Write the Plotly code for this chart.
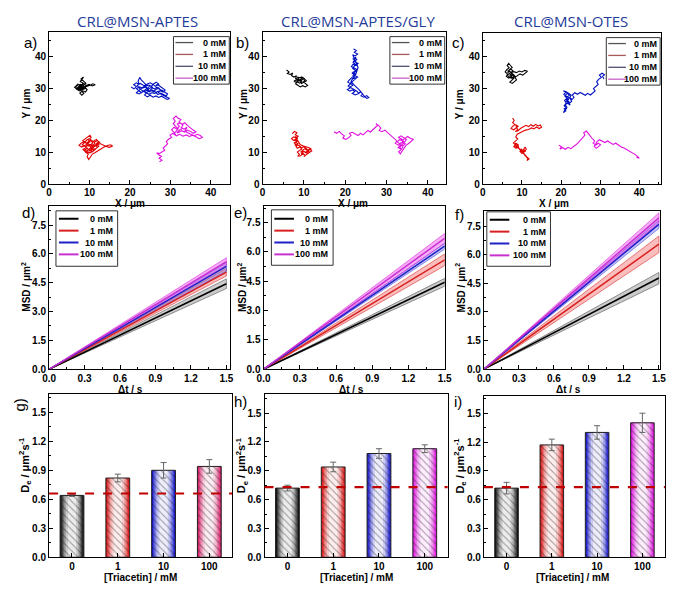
import plotly.graph_objects as go

W, H = 674, 589
def fx(p): return p / W
def fy(p): return 1 - p / H

CONC = ["0 mM", "1 mM", "10 mM", "100 mM"]
TITLES = ["CRL@MSN-APTES", "CRL@MSN-APTES/GLY", "CRL@MSN-OTES"]

# ---------------- trajectories (x, y) in µm ----------------
TRAJ_A = [
    [(8.0,30.0),(7.3,30.6),(7.8,31.2),(8.6,30.7),(8.2,29.8),(7.5,29.2),(6.8,29.7),(7.4,30.3),(8.1,29.5),(8.9,29.9),(9.2,30.8),(8.5,31.5),(7.9,30.9),(7.1,31.3),(6.6,30.6),(7.2,29.9),(7.9,28.9),(8.6,28.4),(8.1,27.8),(7.6,28.5),(8.3,29.2),(9.0,28.8),(9.4,29.6),(8.8,30.3),(8.0,30.8),(8.4,31.6),(7.7,32.1),(8.2,32.8),(8.5,33.5),(7.9,32.9),(8.6,32.3),(9.1,31.6),(8.4,30.9),(7.6,30.4),(6.9,30.9),(6.3,30.3),(7.0,29.6),(7.7,29.9),(8.5,30.2),(9.3,30.5),(10.1,30.9),(10.8,31.4),(11.4,31.1),(10.7,30.7),(9.9,31.2),(9.2,30.9),(8.7,30.1),(7.9,29.7),(7.2,30.2),(7.7,30.7),(8.4,29.9)],
    [(9.5,11.5),(8.8,12.1),(8.1,11.6),(7.4,12.1),(7.9,12.8),(8.7,13.3),(9.4,12.7),(10.1,13.2),(9.7,13.9),(10.4,14.6),(10.1,15.3),(9.5,14.7),(8.9,14.1),(8.3,13.6),(9.0,13.0),(9.8,12.5),(10.6,12.0),(11.3,12.6),(11.0,13.4),(11.7,14.0),(12.2,13.3),(11.6,12.5),(12.3,11.9),(11.7,11.2),(10.9,10.8),(10.2,11.3),(9.5,10.7),(9.0,10.0),(9.7,9.4),(9.4,8.6),(9.8,7.7),(10.3,8.5),(10.7,9.4),(11.4,9.9),(12.1,10.5),(12.8,11.2),(13.6,11.6),(14.4,12.1),(15.2,12.3),(15.7,11.9),(14.9,11.5),(14.1,11.8),(13.3,12.3),(12.6,12.7),(11.9,12.2),(11.1,11.7),(10.4,10.4),(9.7,10.9),(9.0,11.4),(8.4,10.8),(8.9,10.2),(9.6,9.9),(10.5,10.1),(11.2,10.6),(10.6,11.2),(10.0,12.0),(10.8,12.9),(10.3,13.7),(9.6,13.2),
     (9.1,12.5),(9.8,11.9),(10.5,12.4),(11.2,11.9),(11.9,12.6),(12.5,13.1),(11.9,13.6),(11.2,13.1),(10.6,13.6),(10.0,14.2),(9.3,13.8),(8.6,12.9),(8.2,12.3),(8.9,11.8),(9.6,12.2),(10.3,11.7),(11.0,12.3),(10.6,11.0),(10.0,10.5),(9.4,11.1),(8.8,10.7),(9.3,10.2),(10.1,9.8),(10.8,10.2),(11.5,11.1),(12.0,11.6),(11.4,12.1),(10.8,11.6)],
    [(20.3,30.4),(21.0,29.8),(21.6,30.5),(20.9,31.1),(21.6,31.7),(22.3,31.2),(22.0,32.2),(22.4,33.4),(22.8,32.6),(23.3,31.9),(23.9,31.2),(23.4,30.5),(22.7,29.9),(22.1,29.1),(21.5,28.6),(22.3,28.2),(23.0,28.8),(23.7,29.5),(24.4,30.1),(25.0,30.8),(25.6,30.2),(25.1,29.5),(25.8,28.9),(26.4,29.6),(27.1,30.1),(27.6,29.4),(27.0,28.7),(27.7,28.1),(28.4,27.6),(29.1,27.2),(29.8,26.8),(29.2,26.5),(28.5,26.9),(27.8,27.5),(27.1,27.1),(26.4,27.6),(25.7,27.2),(25.0,27.8),(24.3,27.3),(23.6,27.9),(24.1,28.6),(24.8,29.2),(24.2,29.9),(23.6,30.6),(24.3,31.3),(25.0,31.7),(25.7,31.2),(26.3,30.6),(26.9,31.1),(27.5,30.6),(28.1,30.0),(28.7,29.4),(28.2,28.8),(27.5,29.2),(26.8,29.0),(26.1,28.4),(25.4,28.6),(24.7,28.1),(24.0,28.5),
     (23.4,29.1),(22.8,28.6),(22.2,29.4),(21.6,29.9),(22.4,30.4),(23.1,30.0),(23.8,30.4),(24.6,29.8),(25.3,30.3),(26.0,29.8),(26.7,30.3),(27.3,29.7),(28.0,29.3),(28.6,28.7),(29.3,28.2),(29.0,27.6),(28.3,28.1),(27.6,28.5),(26.9,28.0),(26.2,28.9),(25.5,29.4),(24.8,28.9),(24.2,29.4),(23.5,28.9),(22.9,29.4),(22.3,30.0),(21.8,30.9),(22.5,31.5),(23.2,31.0),(23.9,30.6),(24.6,31.0),(25.3,30.6),(25.9,31.4),(26.5,31.9),(27.1,31.3),(26.4,30.9)],
    [(27.3,7.0),(27.9,7.5),(27.2,8.1),(27.8,8.7),(27.1,9.2),(26.6,9.8),(27.3,9.6),(28.0,10.1),(28.6,10.6),(28.2,11.3),(28.8,11.9),(29.3,12.6),(29.0,13.4),(29.6,14.1),(30.3,14.6),(29.9,15.3),(30.6,15.9),(31.3,15.4),(30.8,16.3),(30.3,17.0),(30.9,17.8),(31.6,17.2),(32.2,18.1),(31.7,18.8),(32.5,19.1),(33.1,18.5),(32.7,17.7),(33.4,17.2),(34.1,17.8),(33.6,16.6),(34.4,16.0),(35.2,15.6),(35.9,15.1),(36.6,15.6),(37.4,15.2),(37.9,14.6),(37.1,14.2),(36.3,14.8),(35.5,15.3),(34.7,14.9),(33.9,15.4),(33.1,15.0),(32.3,15.6),(31.5,15.1),(30.8,15.7),(31.4,16.5),(31.9,17.3),(31.3,18.1),(30.7,18.9),(31.2,19.7),(30.7,20.5),(31.4,21.3),(31.9,20.6),(32.6,20.2),(32.1,19.4),(32.9,18.7),(33.6,19.2),(34.2,18.4),
     (34.9,17.6),(35.6,16.9),(36.3,16.4),(35.7,15.9),(34.9,16.5),(34.2,16.9),(33.5,16.3),(32.8,16.7),(32.1,16.2),(31.6,16.0),(32.3,17.0),(33.0,17.4)],
]
TRAJ_B = [
    [(5.8,35.7),(6.4,35.1),(6.0,34.6),(6.7,34.3),(7.3,34.8),(7.0,34.0),(7.6,33.5),(8.2,33.9),(8.0,33.1),(8.7,32.7),(8.3,32.1),(8.9,31.6),(9.5,32.0),(9.2,32.8),(9.8,33.3),(10.3,32.7),(9.9,32.0),(10.5,31.5),(10.9,30.9),(10.3,30.4),(9.7,30.8),(9.1,30.4),(8.6,31.0),(8.0,31.4),(8.5,32.2),(9.1,32.5),(9.6,33.6),(9.0,33.3),(8.4,33.5),(8.8,32.9),(9.4,31.5),(10.0,31.9),(10.6,32.3),(10.1,33.0),(9.5,32.6),(8.7,32.4),(8.1,32.6),(7.6,32.2),(8.2,31.8)],
    [(7.2,15.8),(7.7,16.5),(8.3,16.1),(7.9,15.4),(8.6,15.0),(8.1,14.4),(7.5,14.8),(7.0,14.2),(7.6,13.6),(8.3,13.9),(8.0,13.1),(8.6,12.6),(8.2,11.9),(7.8,12.5),(8.4,11.2),(9.0,11.6),(9.5,11.0),(8.9,10.4),(8.4,10.0),(8.9,9.3),(8.5,8.7),(9.2,8.9),(9.8,9.6),(10.3,9.0),(10.0,8.6),(10.7,9.3),(11.3,9.9),(11.9,10.4),(11.4,10.9),(10.8,10.5),(10.2,11.1),(9.6,10.4),(9.2,10.0),(9.8,10.3),(10.5,10.0),(11.1,10.6),(11.8,11.0),(11.2,11.4),(10.4,11.6),(9.7,12.0),(9.1,12.4),(8.7,13.2),(8.2,14.0),(7.9,14.9),
     (8.5,14.4),(7.7,13.9),(8.4,13.3),(7.6,12.9),(8.2,12.4),(8.9,12.0),(9.4,11.4),(10.0,11.7),(10.6,11.1),(11.2,10.3),(10.6,9.7),(10.0,10.2),(9.4,9.6),(9.9,9.1)],
    [(22.0,42.3),(22.7,41.8),(22.2,41.2),(23.0,40.7),(22.4,40.1),(21.8,40.5),(22.1,39.6),(22.8,39.0),(22.3,38.3),(23.1,37.8),(22.6,37.1),(21.9,37.5),(21.5,36.8),(22.2,36.3),(22.9,35.8),(22.4,35.1),(21.7,34.7),(22.3,34.0),(23.0,33.5),(22.4,32.9),(21.6,33.3),(21.0,32.6),(20.6,31.9),(21.3,31.4),(20.7,30.7),(21.2,30.1),(20.5,29.6),(21.1,29.1),(21.8,29.5),(22.3,28.9),(21.7,28.4),(22.4,27.9),(23.1,28.3),(23.7,28.9),(24.2,28.2),(23.8,27.6),(24.5,27.2),(25.2,27.7),(25.7,27.1),(25.2,26.8),(24.7,27.4),(23.4,29.5),(22.6,30.4),(22.0,31.2),(21.4,32.2),(22.0,33.5),(22.6,34.5),(23.1,36.5),(22.5,38.5),(21.9,39.2),
     (22.6,39.7),(21.9,38.1),(22.5,37.5),(21.8,36.2),(22.6,35.4),(21.9,35.0),(22.5,34.3),(21.8,33.8),(22.6,33.1),(21.9,32.3),(21.3,31.7),(21.8,30.9),(21.1,30.4),(21.7,29.9),(22.9,29.0),(23.4,28.2)],
    [(17.3,16.4),(17.9,15.9),(18.6,16.5),(19.1,15.7),(19.8,15.1),(19.4,14.4),(20.1,14.0),(20.8,14.5),(21.4,15.2),(21.0,15.9),(21.7,16.2),(22.4,15.6),(23.1,15.2),(23.7,15.9),(24.3,15.4),(24.9,16.1),(25.5,16.8),(26.1,16.3),(26.7,17.1),(27.3,17.8),(27.9,18.5),(27.4,18.9),(28.1,18.3),(28.6,17.5),(28.2,16.8),(28.9,16.4),(29.6,16.9),(30.2,16.2),(30.8,15.5),(31.4,14.8),(31.9,14.1),(32.5,13.5),(32.1,12.8),(32.8,12.2),(33.4,12.8),(34.1,13.4),(33.6,14.1),(32.9,14.6),(33.5,15.1),(34.2,14.5),(34.8,13.9),(34.3,13.1),(33.7,12.4),(33.2,11.6),(33.5,10.8),(32.9,10.1),(33.3,9.5),(33.8,10.3),(34.2,11.2),(34.7,12.1),(35.4,12.8),(36.1,13.4),(36.5,14.0),(35.8,14.3),(35.1,14.9),
     (34.4,14.3),(33.8,13.6),(33.1,13.9),(32.6,13.2),(33.2,12.6),(33.9,13.1),(34.5,12.6),(33.9,11.9),(33.4,12.3),(32.8,11.4),(33.6,11.0),(34.0,11.8)],
]
TRAJ_C = [
    [(6.8,34.0),(7.4,34.6),(6.9,35.3),(6.3,34.9),(6.9,35.9),(7.5,36.5),(7.0,37.2),(6.6,37.8),(6.2,37.1),(6.7,36.4),(6.1,35.8),(5.7,35.1),(6.3,34.4),(6.0,33.7),(6.6,33.2),(7.3,33.6),(7.9,33.1),(7.4,32.5),(6.9,31.9),(7.5,31.5),(8.1,32.0),(8.6,32.6),(8.2,33.4),(8.8,34.0),(9.5,34.5),(10.2,34.1),(10.8,34.7),(11.4,35.3),(10.7,35.6),(10.0,35.1),(9.3,35.4),(8.6,34.9),(7.9,35.2),(7.3,34.9),(7.8,34.2),(7.1,33.8),(7.6,33.2),(8.3,33.7),
     (7.7,34.4),(7.1,34.9),(6.5,35.5),(7.2,36.0),(7.7,35.4),(6.8,34.6),(6.2,34.1),(6.8,33.5),(7.4,33.1),(8.0,33.9),(7.3,34.2)],
    [(7.6,20.7),(8.0,19.9),(7.6,19.2),(8.2,18.6),(7.6,18.1),(7.2,17.4),(7.9,17.0),(8.5,17.5),(9.0,18.1),(8.4,18.6),(8.9,17.0),(8.3,16.5),(9.0,16.7),(9.6,17.4),(10.3,17.9),(11.0,18.4),(11.7,18.0),(12.3,18.6),(12.9,18.1),(13.5,18.7),(14.1,18.2),(14.7,18.5),(15.0,17.8),(14.4,17.4),(13.7,17.9),(13.1,17.3),(12.4,17.6),(11.7,17.1),(10.9,16.9),(10.2,16.6),(9.5,16.1),(8.8,15.6),(8.4,14.8),(8.9,14.1),(8.3,13.5),(7.8,12.9),(8.4,12.3),(7.9,11.7),(8.5,11.2),(9.1,11.8),(8.7,12.5),(9.3,11.0),(9.8,10.3),(10.4,10.8),(10.8,11.6),(11.1,10.9),(10.6,10.1),(10.0,9.6),(9.5,10.2),(9.9,10.9),(10.5,9.4),(11.0,8.7),(11.5,8.0),(11.3,7.4),(11.8,7.9),
     (11.2,8.6),(10.7,9.1),(10.2,9.9),(9.6,10.7),(9.0,11.3),(8.5,11.9),(9.1,12.3),(8.4,12.8),(8.1,12.1),(8.8,11.5),(9.5,10.9),(10.2,10.4),(10.9,10.2),(10.4,11.0)],
    [(22.0,26.6),(21.4,25.9),(22.1,25.3),(22.7,25.9),(22.3,26.8),(21.6,27.3),(22.2,27.9),(21.5,28.4),(21.0,27.5),(21.5,26.8),(20.9,26.2),(21.3,25.4),(20.8,24.5),(21.4,23.7),(20.9,23.0),
     (20.6,22.4),(21.2,22.9),(20.8,23.6),(21.5,24.1),(21.0,24.8),(21.7,25.3),(22.3,24.7),(22.0,25.8),(21.4,26.3),(21.9,27.0),(21.3,27.6),(20.7,28.1),(21.2,28.7),(20.6,29.2),(21.3,28.9),(22.0,28.4),(22.6,27.8),(22.2,27.1),(22.8,26.5),(23.3,27.1),(22.9,27.9),(23.5,28.6),(24.2,28.1),(24.9,28.7),(25.5,28.2),(26.2,27.8),(26.8,28.4),(27.5,27.9),(28.1,28.5),(28.7,29.2),(28.3,29.9),(28.9,30.6),(29.5,31.2),(29.1,32.0),(29.6,32.8),(30.3,33.4),(29.8,34.1),(30.5,34.7),(31.1,34.2),(30.6,33.7),(31.0,32.9)],
    [(19.4,12.2),(20.1,11.7),(19.7,11.0),(20.4,11.4),(21.1,10.9),(21.8,11.5),(22.5,11.1),(23.2,11.6),(23.8,12.3),(24.4,13.0),(25.0,13.7),(25.6,14.5),(26.1,15.3),(25.8,16.1),(26.5,16.6),(27.0,15.8),(27.4,15.0),(28.0,14.2),(28.6,13.5),(28.2,12.8),(28.9,12.2),(29.5,12.8),(30.1,12.3),(29.6,11.7),(29.0,11.2),(28.5,11.8),(29.2,13.3),(29.8,13.9),(30.5,13.4),(31.2,13.0),(31.9,13.5),(32.6,12.9),(33.3,12.4),(34.0,12.8),(34.7,12.1),(35.4,11.6),(36.1,11.3),(36.8,10.8),(37.5,10.3),(38.2,9.9),(38.9,9.3),(39.6,8.6),(40.0,8.1),(39.3,8.4)],
]

# ---------------- MSD (values at t = 0 and 1.5 s) ----------------
MSD_T = [0.0, 1.5]
MSD_D_MEAN = [4.45, 5.05, 5.35, 5.60]
MSD_D_LO = [4.20, 4.85, 5.10, 5.40]
MSD_D_HI = [4.70, 5.25, 5.55, 5.80]
MSD_E_MEAN = [4.45, 5.60, 6.30, 6.70]
MSD_E_LO = [4.25, 5.30, 6.15, 6.45]
MSD_E_HI = [4.65, 5.90, 6.45, 6.95]
MSD_F_MEAN = [4.78, 6.55, 7.59, 7.93]
MSD_F_LO = [4.47, 6.11, 7.38, 7.67]
MSD_F_HI = [5.07, 6.98, 7.80, 8.19]

# ---------------- effective diffusion coefficients ----------------
TRIACETIN = ["0", "1", "10", "100"]
DE_G = [0.64, 0.82, 0.90, 0.94]
DE_G_ERR = [0.01, 0.04, 0.08, 0.07]
DE_H = [0.72, 0.94, 1.08, 1.13]
DE_H_ERR = [0.03, 0.05, 0.05, 0.04]
DE_I = [0.72, 1.17, 1.30, 1.40]
DE_I_ERR = [0.06, 0.06, 0.07, 0.10]
DE_REF = [0.66, 0.73, 0.73]

TRAJ_COLORS = ["#000000", "#e00000", "#0010c0", "#e010e0"]
TRAJ_LEG_COLORS = ["#555555", "#a85a5a", "#505070", "#c860c8"]
MSD_LINE = ["#000000", "#d82020", "#2020c8", "#c830d0"]
MSD_BAND = ["rgba(110,110,110,0.35)", "rgba(240,70,70,0.35)", "rgba(90,90,235,0.35)", "rgba(235,50,235,0.40)"]
MSD_EDGE = ["rgba(90,90,90,0.8)", "rgba(220,60,60,0.8)", "rgba(80,80,220,0.8)", "rgba(220,50,220,0.8)"]
BAR_COLORS = [["#101010", "#e01818", "#1818d0", "#d8206a"],
              ["#101010", "#e01818", "#1818d0", "#e018e0"],
              ["#101010", "#e01818", "#1818d0", "#e018e0"]]

PANELS = {
    1: ((43, 228), (32, 186)), 2: ((261, 448), (32, 186)), 3: ((486, 668), (33, 186)),
    4: ((43, 228), (208, 373)), 5: ((262, 447), (208, 373)), 6: ((487, 667), (213, 373)),
    7: ((43, 230), (398, 563)), 8: ((263, 450), (398, 563)), 9: ((487, 672), (400, 563)),
}
RANGES = {
    1: ([0, 44.8], [0, 47.7]), 2: ([0, 44.3], [0, 47.7]), 3: ([0, 45.6], [0, 47.4]),
    4: ([0, 1.533], [0, 8.5]), 5: ([0, 1.5], [0, 8.36]), 6: ([0, 1.511], [0, 8.3]),
    7: ([-0.5, 3.5], [0, 1.69]), 8: ([-0.5, 3.5], [0, 1.70]), 9: ([-0.5, 3.5], [0, 1.68]),
}

TICKFONT = dict(family="Liberation Sans, Arial", size=10, color="black", weight="bold")

fig = go.Figure()

def sfx(k):
    return "" if k == 1 else str(k)

# trajectories
for k, T in zip([1, 2, 3], [TRAJ_A, TRAJ_B, TRAJ_C]):
    for i in range(4):
        fig.add_trace(go.Scatter(
            x=[p[0] for p in T[i]], y=[p[1] for p in T[i]], mode="lines", name=CONC[i],
            line=dict(color=TRAJ_COLORS[i], width=1.1), showlegend=False,
            xaxis="x" + sfx(k), yaxis="y" + sfx(k)))

# MSD
for k, (M, LO, HI) in zip([4, 5, 6], [(MSD_D_MEAN, MSD_D_LO, MSD_D_HI),
                                      (MSD_E_MEAN, MSD_E_LO, MSD_E_HI),
                                      (MSD_F_MEAN, MSD_F_LO, MSD_F_HI)]):
    for i in range(4):
        hi = [0, HI[i]]
        lo = [0, LO[i]]
        fig.add_trace(go.Scatter(
            x=MSD_T + MSD_T[::-1], y=hi + lo[::-1], mode="lines", fill="toself",
            fillcolor=MSD_BAND[i], line=dict(color=MSD_EDGE[i], width=0.8),
            showlegend=False, hoverinfo="skip",
            xaxis="x" + sfx(k), yaxis="y" + sfx(k)))
    for i in range(4):
        fig.add_trace(go.Scatter(
            x=MSD_T, y=[0, M[i]], mode="lines", name=CONC[i], showlegend=False,
            line=dict(color=MSD_LINE[i], width=1.5),
            xaxis="x" + sfx(k), yaxis="y" + sfx(k)))

# bars (gradient faked with nested bars + hatch overlay)
def mix(hexc, t):
    r, g, b = int(hexc[1:3], 16), int(hexc[3:5], 16), int(hexc[5:7], 16)
    r = round(r + (255 - r) * t); g = round(g + (255 - g) * t); b = round(b + (255 - b) * t)
    return f"rgb({r},{g},{b})"

LAYERS = [(0.52, 0.0), (0.46, 0.2), (0.40, 0.4), (0.34, 0.6), (0.27, 0.78), (0.18, 0.92)]
for j, (k, V, E) in enumerate(zip([7, 8, 9], [DE_G, DE_H, DE_I], [DE_G_ERR, DE_H_ERR, DE_I_ERR])):
    for (w, t) in LAYERS:
        fig.add_trace(go.Bar(
            x=TRIACETIN, y=V, width=w, marker=dict(color=[mix(c, t) for c in BAR_COLORS[j]], line=dict(width=0)),
            showlegend=False, hoverinfo="skip", xaxis="x" + sfx(k), yaxis="y" + sfx(k)))
    fig.add_trace(go.Bar(
        x=TRIACETIN, y=V, width=0.52,
        marker=dict(color="rgba(0,0,0,0)", line=dict(color="#222", width=1),
                    pattern=dict(shape="\\", fgcolor="rgba(20,20,20,0.8)", size=5, solidity=0.2, fillmode="overlay")),
        error_y=dict(type="data", array=E, color="#666", thickness=1, width=3),
        showlegend=False, xaxis="x" + sfx(k), yaxis="y" + sfx(k)))

layout = dict(
    width=W, height=H, margin=dict(l=0, r=0, t=0, b=0),
    paper_bgcolor="white", plot_bgcolor="white", barmode="overlay",
    showlegend=False, annotations=[], shapes=[],
)

for k, ((x0, x1), (y0, y1)) in PANELS.items():
    xr, yr = RANGES[k]
    common = dict(showline=True, linecolor="black", linewidth=1.2, mirror=True, showgrid=False,
                  zeroline=False, ticks="inside", ticklen=4, tickwidth=1, tickcolor="black",
                  tickfont=TICKFONT)
    xa = dict(common, domain=[fx(x0), fx(x1)], range=xr, anchor="y" + sfx(k),
              ticklabelstandoff=(-1 if k <= 3 else 0), ticklabeloverflow="allow")
    ya = dict(common, domain=[fy(y1), fy(y0)], range=yr, anchor="x" + sfx(k), ticklabelstandoff=0)
    if k <= 3:
        xa.update(tick0=0, dtick=10, minor=dict(dtick=5, ticks="inside", ticklen=2, tickcolor="black"))
        ya.update(tick0=0, dtick=10, minor=dict(dtick=5, ticks="inside", ticklen=2, tickcolor="black"))
    elif k <= 6:
        xa.update(tick0=0, dtick=0.3, tickformat=".1f",
                  minor=dict(dtick=0.15, ticks="inside", ticklen=2, tickcolor="black"))
        ya.update(tick0=0, dtick=1.5, tickformat=".1f",
                  minor=dict(dtick=0.75, ticks="inside", ticklen=2, tickcolor="black"))
    else:
        xa.update(type="category")
        ya.update(tick0=0, dtick=0.3, tickformat=".1f",
                  minor=dict(dtick=0.15, ticks="inside", ticklen=2, tickcolor="black"))
    layout["xaxis" + sfx(k)] = xa
    layout["yaxis" + sfx(k)] = ya

ann = layout["annotations"]
shp = layout["shapes"]
def add_text(text, x, y, size=10, color="black", angle=0, family="Liberation Sans, Arial",
             weight="bold", xanchor="center"):
    ann.append(dict(text=text, x=fx(x), y=fy(y), xref="paper", yref="paper", showarrow=False,
                    xanchor=xanchor, yanchor="middle", textangle=angle,
                    font=dict(family=family, size=size, color=color, weight=weight)))

# hand-built legends (box, line samples, labels)
def legend(box, line_x, text_right, rows, colors, lw):
    bx0, by0, bx1, by1 = box
    shp.append(dict(type="rect", xref="paper", yref="paper", x0=fx(bx0), x1=fx(bx1), y0=fy(by1), y1=fy(by0),
                    fillcolor="white", line=dict(color="#333", width=1), layer="above"))
    for i, yy in enumerate(rows):
        shp.append(dict(type="line", xref="paper", yref="paper", x0=fx(line_x[0]), x1=fx(line_x[1]),
                        y0=fy(yy), y1=fy(yy), line=dict(color=colors[i], width=lw), layer="above"))
        add_text(CONC[i], text_right, yy, size=9, xanchor="right")

legend((170, 37, 227, 85), (172, 190), 226, [43, 55, 67, 79], TRAJ_LEG_COLORS, 1.3)
legend((391, 37, 447, 85), (393, 411), 446, [43, 55, 67, 79], TRAJ_LEG_COLORS, 1.3)
legend((612, 38, 667, 86), (614, 632), 666, [44, 56, 68, 80], TRAJ_LEG_COLORS, 1.3)
legend((50, 213, 113, 269), (53, 73), 110, [221, 233, 245, 257], MSD_LINE, 2)
legend((270, 212, 333, 268), (273, 293), 330, [221, 233, 245, 257], MSD_LINE, 2)
legend((490, 214, 555, 269), (493, 513), 552, [222, 234, 246, 258], MSD_LINE, 2)

for t, cx in zip(TITLES, [133, 358, 576]):
    add_text(t, cx, 21, size=15, color="#1f3c9a", family="Open Sans", weight="normal")

for lab, x, y, ang in [("a)", 24, 43, 0), ("b)", 240, 43, 0), ("c)", 461, 43, 0),
                       ("d)", 22, 215, 0), ("e)", 238, 215, 0), ("f)", 462, 217, 0),
                       ("g)", 13, 409, -90), ("h)", 238, 406, 0), ("i)", 461, 406, 0)]:
    add_text(lab, x, y, size=15, angle=ang, weight="normal")

for cx in [126, 353, 559]:
    add_text("X / \u03bcm", cx, 206)
for cx in [126, 352, 573]:
    add_text("\u0394t / s", cx, 394)
for cx in [136, 357, 577]:
    add_text("[Triacetin] / mM", cx, 583)
for x in [20, 242, 463]:
    add_text("Y / \u03bcm", x, 105, angle=-90)
for x in [19, 240, 463]:
    add_text("MSD / \u03bcm<sup>2</sup>", x, 290, angle=-90)
for x in [19, 240, 463]:
    add_text("D<sub>e</sub> / \u03bcm<sup>2</sup>s<sup>-1</sup>", x, 470, angle=-90, size=11)

for k, v in zip([7, 8, 9], DE_REF):
    shp.append(dict(type="line", xref="x" + sfx(k) + " domain", yref="y" + sfx(k),
                    x0=0, x1=1, y0=v, y1=v, layer="above",
                    line=dict(color="#c00000", width=2.2, dash="dash")))

fig.update_layout(layout)
fig.write_html("out.html", config={"displayModeBar": False},
               post_script="document.body.style.margin='0';")
